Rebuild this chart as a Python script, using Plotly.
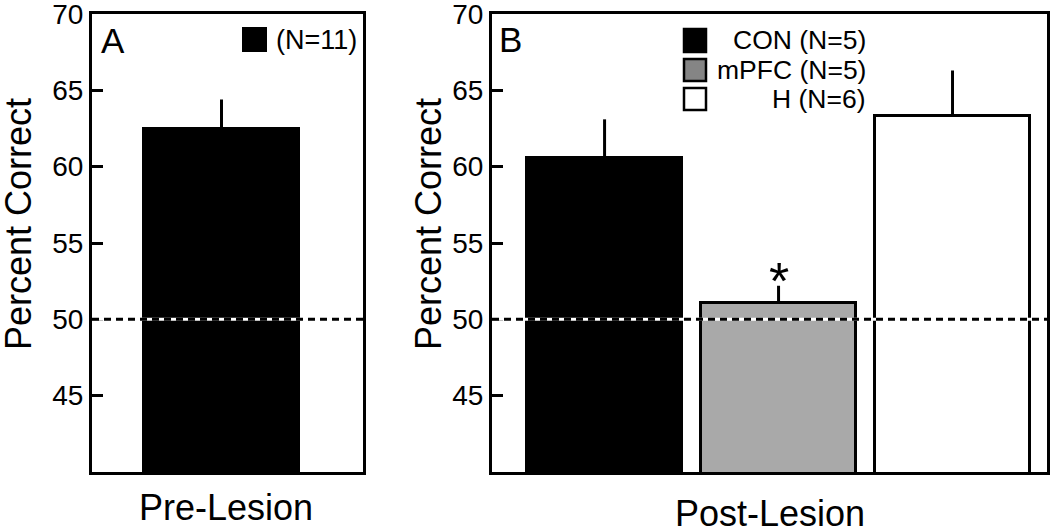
import plotly.graph_objects as go

# ---- data ----
pre_categories = ["Pre-Lesion"]
pre_values = [62.5]
pre_errors = [1.9]
pre_legend_label = "(N=11)"

post_categories = ["CON", "mPFC", "H"]
post_values = [60.6, 51.1, 63.3]
post_errors = [2.5, 1.1, 3.0]
post_legend_labels = ["CON (N=5)", "mPFC (N=5)", "H (N=6)"]
post_colors = ["#000000", "#a9a9a9", "#ffffff"]
post_swatch_colors = ["#000000", "#858585", "#ffffff"]

y_ticks = [45, 50, 55, 60, 65, 70]
y_range = [40, 70]
chance_level = 50

W, H = 1050, 532
FONT = "Liberation Sans, Arial, sans-serif"


def px(x):
    return x / W


def py(y):
    return 1 - y / H


fig = go.Figure()

fig.add_trace(go.Bar(
    x=pre_categories, y=pre_values, width=0.89,
    marker=dict(color="#000000", line=dict(color="#000000", width=3)),
    error_y=dict(type="data", symmetric=False, array=pre_errors, arrayminus=[0] * len(pre_errors),
                 color="#000000", thickness=3, width=0),
    xaxis="x", yaxis="y", showlegend=False,
))

fig.add_trace(go.Bar(
    x=post_categories, y=post_values, width=0.89,
    marker=dict(color=post_colors, line=dict(color="#000000", width=3)),
    error_y=dict(type="data", symmetric=False, array=post_errors, arrayminus=[0] * len(post_errors),
                 color="#000000", thickness=3, width=0),
    xaxis="x2", yaxis="y2", showlegend=False,
))

yaxis_common = dict(
    range=y_range, tickvals=y_ticks, ticks="inside", ticklen=11, tickwidth=3, tickcolor="#000",
    showline=True, linewidth=3, linecolor="#000", mirror=True, showgrid=False, zeroline=False,
    tickfont=dict(family=FONT, size=28, color="#000"), ticklabelstandoff=0,
    ticklabeloverflow="allow", automargin=False,
)
xaxis_common = dict(
    showline=True, linewidth=3, linecolor="#000", mirror=True, showgrid=False, zeroline=False,
    showticklabels=False, ticks="", automargin=False,
)

fig.update_layout(
    width=W, height=H,
    margin=dict(l=0, r=0, t=0, b=0, autoexpand=False),
    paper_bgcolor="#ffffff", plot_bgcolor="#ffffff",
    bargap=0,
    xaxis=dict(domain=[px(92), px(363)], range=[-0.744, 0.813], anchor="y", **xaxis_common),
    yaxis=dict(domain=[py(472), py(14)], anchor="x", **yaxis_common),
    xaxis2=dict(domain=[px(492), px(1047)], range=[-0.647, 2.543], anchor="y2", **xaxis_common),
    yaxis2=dict(domain=[py(472), py(14)], anchor="x2", **yaxis_common),
    font=dict(family=FONT, color="#000"),
)

# chance line (white underlay + black dashes)
for xr, yr in [("x domain", "y"), ("x2 domain", "y2")]:
    fig.add_shape(type="line", xref=xr, yref=yr, x0=0, x1=1, y0=chance_level, y1=chance_level,
                  line=dict(color="#ffffff", width=3), layer="above")
    fig.add_shape(type="line", xref=xr, yref=yr, x0=0, x1=1, y0=chance_level, y1=chance_level,
                  line=dict(color="#000000", width=3, dash="7px,5px"), layer="above")

annotations = []
# panel letters
annotations.append(dict(text="A", x=px(99), y=py(41), xref="paper", yref="paper",
                        xanchor="left", yanchor="middle", showarrow=False, font=dict(size=35)))
annotations.append(dict(text="B", x=px(497), y=py(39), xref="paper", yref="paper",
                        xanchor="left", yanchor="middle", showarrow=False, font=dict(size=35)))
# y titles
for xc in (18, 428):
    annotations.append(dict(text="Percent Correct", x=px(xc), y=py(224), xref="paper", yref="paper",
                            xanchor="center", yanchor="middle", textangle=-90, showarrow=False,
                            font=dict(size=36)))
# x labels
annotations.append(dict(text=pre_categories[0], x=px(226), y=py(507), xref="paper", yref="paper",
                        xanchor="center", yanchor="middle", showarrow=False, font=dict(size=36)))
annotations.append(dict(text="Post-Lesion", x=px(770), y=py(513), xref="paper", yref="paper",
                        xanchor="center", yanchor="middle", showarrow=False, font=dict(size=36)))

# legend A
fig.add_shape(type="rect", xref="paper", yref="paper", x0=px(243), x1=px(266), y0=py(51), y1=py(28),
              fillcolor="#000000", line=dict(color="#000000", width=2))
annotations.append(dict(text=pre_legend_label, x=px(274), y=py(40), xref="paper", yref="paper",
                        xanchor="left", yanchor="middle", showarrow=False, font=dict(size=27)))

# legend B
rows = [(29, 52), (59, 81), (88, 110)]
for (t, b), lab, col in zip(rows, post_legend_labels, post_swatch_colors):
    fig.add_shape(type="rect", xref="paper", yref="paper", x0=px(684), x1=px(706), y0=py(b), y1=py(t),
                  fillcolor=col, line=dict(color="#000000", width=2.5))
    annotations.append(dict(text=lab, x=px(868), y=py((t + b) / 2), xref="paper", yref="paper",
                            xanchor="right", yanchor="middle", showarrow=False, font=dict(size=26.5)))

# significance asterisk over mPFC
annotations.append(dict(text="*", x=post_categories[1], y=post_values[1] + post_errors[1],
                        xref="x2", yref="y2", xanchor="center", yanchor="bottom", yshift=-26,
                        showarrow=False, font=dict(size=52)))

fig.update_layout(annotations=annotations)

fig.write_html("out.html", config={"displayModeBar": False},
               post_script="document.body.style.margin='0';document.body.style.overflow='hidden';")
